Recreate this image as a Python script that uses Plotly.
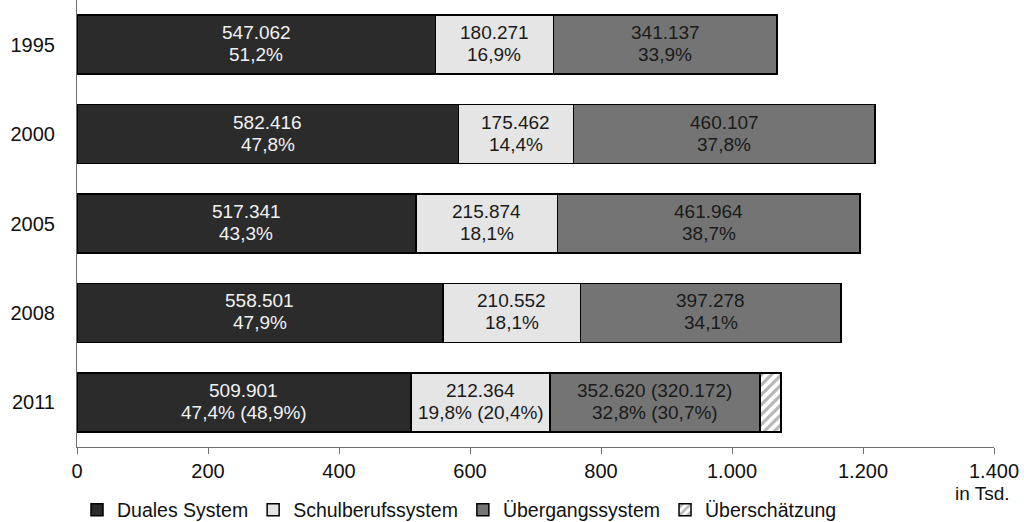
import plotly.graph_objects as go

# Neuzugänge in das berufliche Ausbildungssystem (in Tsd.)
years = ["1995", "2000", "2005", "2008", "2011"]
duales = [547.062, 582.416, 517.341, 558.501, 509.901]
schul = [180.271, 175.462, 215.874, 210.552, 212.364]
uebergang = [341.137, 460.107, 461.964, 397.278, 320.172]  # 2011: korrigierter Wert
ueberschaetzung = [0, 0, 0, 0, 32.448]                      # 2011: 352.620 - 320.172

# Anteile in %
duales_pct = [51.2, 47.8, 43.3, 47.9, 47.4]
schul_pct = [16.9, 14.4, 18.1, 18.1, 19.8]
uebergang_pct = [33.9, 37.8, 38.7, 34.1, 32.8]
# korrigierte Anteile (nur 2011)
duales_pct_korr = [None, None, None, None, 48.9]
schul_pct_korr = [None, None, None, None, 20.4]
uebergang_pct_korr = [None, None, None, None, 30.7]

x_tickvals = [0, 200, 400, 600, 800, 1000, 1200, 1400]
x_ticktext = ["0", "200", "400", "600", "800", "1.000", "1.200", "1.400"]

FONT = "Liberation Sans, Arial, sans-serif"
FS = 20
LABEL_FS = 19
EDGE = dict(color="#000000", width=1.5)


def fmt_n(v):
    return f"{int(round(v * 1000)):,}".replace(",", ".")


def fmt_p(p):
    return f"{p:.1f}".replace(".", ",") + "%"


fig = go.Figure()
fig.add_trace(go.Bar(y=years, x=duales, orientation="h", name="Duales System",
                     marker=dict(color="#2b2b2b", line=EDGE)))
fig.add_trace(go.Bar(y=years, x=schul, orientation="h", name="Schulberufssystem",
                     marker=dict(color="#e5e5e5", line=EDGE)))
fig.add_trace(go.Bar(y=years, x=uebergang, orientation="h", name="Übergangssystem",
                     marker=dict(color="#747474", line=EDGE)))
ue_years = [y for y, v in zip(years, ueberschaetzung) if v > 0]
ue_vals = [v for v in ueberschaetzung if v > 0]
fig.add_trace(go.Bar(y=ue_years, x=ue_vals, orientation="h", name="Überschätzung",
                     marker=dict(color="#ffffff", line=EDGE,
                                 pattern=dict(shape="/", fgcolor="#6e6e6e", bgcolor="#ffffff",
                                              size=7, solidity=0.45))))


# Beschriftungen: zwei Zeilen je Segment (Anzahl, Anteil); y = Kategorie-Index
def add_label(x, row, top, bottom, color):
    fig.add_annotation(x=x, y=row, text=top, showarrow=False, yshift=12,
                       font=dict(family=FONT, size=LABEL_FS, color=color))
    fig.add_annotation(x=x, y=row, text=bottom, showarrow=False, yshift=-10,
                       font=dict(family=FONT, size=LABEL_FS, color=color))


for i in range(len(years)):
    d, s, u, o = duales[i], schul[i], uebergang[i], ueberschaetzung[i]
    # Duales System
    p = fmt_p(duales_pct[i])
    if duales_pct_korr[i] is not None:
        p += f" ({fmt_p(duales_pct_korr[i])})"
    add_label(d / 2, i, fmt_n(d), p, "#f2f2f2")
    # Schulberufssystem
    p = fmt_p(schul_pct[i])
    if schul_pct_korr[i] is not None:
        p += f" ({fmt_p(schul_pct_korr[i])})"
    add_label(d + s / 2, i, fmt_n(s), p, "#1a1a1a")
    # Übergangssystem
    n = fmt_n(u + o) + (f" ({fmt_n(u)})" if o > 0 else "")
    p = fmt_p(uebergang_pct[i])
    if uebergang_pct_korr[i] is not None:
        p += f" ({fmt_p(uebergang_pct_korr[i])})"
    add_label(d + s + u / 2, i, n, p, "#1a1a1a")

fig.add_annotation(xref="paper", yref="paper", x=1.0196, y=-0.104, xanchor="right",
                   yanchor="middle", text="in Tsd.", showarrow=False,
                   font=dict(family=FONT, size=19, color="#111111"))

fig.update_layout(
    width=1024, height=522, autosize=False,
    barmode="stack", bargap=0.34,
    margin=dict(l=77, r=30, t=0, b=75, autoexpand=False),
    paper_bgcolor="#ffffff", plot_bgcolor="#ffffff",
    font=dict(family=FONT, size=FS, color="#111111"),
    showlegend=True,
    legend=dict(orientation="h", x=0.0, xanchor="left", y=-0.141, yanchor="middle",
                traceorder="normal", font=dict(family=FONT, size=19.5, color="#111111"),
                bgcolor="rgba(0,0,0,0)", itemclick=False),
    xaxis=dict(range=[0, 1400], tickvals=x_tickvals, ticktext=x_ticktext,
               showgrid=False, zeroline=False, showline=True, linecolor="#6f6f6f",
               linewidth=1, ticks="outside", ticklen=6, tickcolor="#6f6f6f",
               ticklabelstandoff=0,
               tickfont=dict(family=FONT, size=FS, color="#111111")),
    yaxis=dict(type="category", categoryorder="array", categoryarray=years,
               range=[len(years) - 0.5, -0.5], showgrid=False, zeroline=False,
               showline=True, linecolor="#6f6f6f", linewidth=1, ticks="",
               ticklabelstandoff=17,
               tickfont=dict(family=FONT, size=FS, color="#111111")),
)

fig.write_html("out.html")
